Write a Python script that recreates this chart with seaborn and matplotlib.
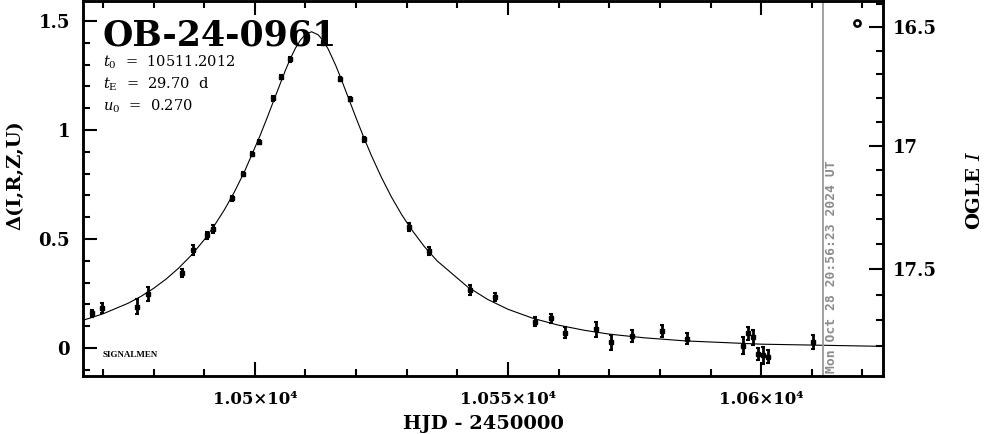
import matplotlib
matplotlib.use("Agg")
import matplotlib.pyplot as plt
from matplotlib.ticker import FixedLocator, MultipleLocator, NullFormatter
import seaborn as sns

# event info shown on the plot
event_name = "OB-24-0961"
param_lines = [r"$t_0$  =  10511.2012", r"$t_{\rm E}$  =  29.70  d", r"$u_0$  =  0.270"]
stamp_text = "Mon Oct 28 20:56:23 2024 UT"
stamp_t = 10612.2

# photometry (HJD-2450000, delta mag, error)
obs_t = [10467.8, 10469.9, 10476.8, 10478.9, 10485.7, 10487.7, 10490.5, 10491.8,
         10495.5, 10497.6, 10499.5, 10500.8, 10503.5, 10505.2, 10506.9, 10513.5,
         10516.8, 10518.7, 10521.5, 10530.5, 10534.4, 10542.5, 10547.5, 10555.4,
         10558.5, 10561.3, 10567.4, 10570.4, 10574.5, 10580.4, 10585.4, 10596.4,
         10597.4, 10598.4, 10599.4, 10600.4, 10601.4, 10610.3]
obs_delta = [0.159, 0.182, 0.189, 0.248, 0.345, 0.450, 0.518, 0.546,
             0.687, 0.798, 0.890, 0.946, 1.145, 1.242, 1.324, 1.398,
             1.233, 1.142, 0.957, 0.556, 0.445, 0.266, 0.235, 0.121,
             0.136, 0.070, 0.086, 0.026, 0.055, 0.078, 0.044, 0.011,
             0.067, 0.049, -0.028, -0.032, -0.040, 0.026]
obs_err = [0.018, 0.023, 0.034, 0.030, 0.020, 0.023, 0.016, 0.020,
           0.012, 0.010, 0.010, 0.010, 0.010, 0.010, 0.010, 0.010,
           0.010, 0.010, 0.010, 0.020, 0.017, 0.024, 0.019, 0.020,
           0.021, 0.025, 0.033, 0.034, 0.029, 0.028, 0.024, 0.038,
           0.031, 0.036, 0.027, 0.039, 0.029, 0.032]

# lone OGLE point top right
ogle_t = [10618.9]
ogle_delta = [1.491]

# model curve
model_t = [10466, 10470, 10475, 10477.5, 10480, 10482.5, 10485, 10487.5, 10490,
           10492, 10494, 10496, 10498, 10501, 10502.5, 10504, 10506, 10507, 10508,
           10509, 10510, 10511.2, 10512.5, 10513.5, 10514.5, 10516, 10517, 10518.5,
           10520, 10521.5, 10523, 10525, 10527, 10529, 10531, 10533.5, 10536,
           10542, 10546, 10550, 10555, 10560, 10565, 10570, 10577, 10585, 10600,
           10624]
model_delta = [0.127, 0.157, 0.206, 0.237, 0.274, 0.317, 0.368, 0.427, 0.497,
               0.562, 0.635, 0.718, 0.812, 0.973, 1.061, 1.152, 1.272, 1.327, 1.375,
               1.413, 1.439, 1.451, 1.437, 1.410, 1.371, 1.295, 1.237, 1.146,
               1.055, 0.967, 0.884, 0.783, 0.692, 0.612, 0.542, 0.465, 0.400,
               0.281, 0.223, 0.178, 0.136, 0.105, 0.082, 0.064, 0.047, 0.033, 0.018,
               0.008]

# x ticks
xticks = [10500, 10550, 10600]
xticklabels = ["1.05×10⁴", "1.055×10⁴", "1.06×10⁴"]

# right axis: OGLE I mag
mag_major = [16.5, 17.0, 17.5]
mag_major_labels = ["16.5", "17", "17.5"]
mag_minor = [16.4, 16.6, 16.7, 16.8, 16.9, 17.1, 17.2, 17.3, 17.4, 17.6, 17.7, 17.8]


def mag_to_delta(m):
    # fitted to where the right hand ticks sit against the left scale
    d = m - 17.0
    return 0.928 - 1.11 * d - 0.048 * d * d


sns.set_style("ticks")
plt.rcParams['font.family'] = ['DejaVu Serif', 'DejaVu Sans']
plt.rcParams['mathtext.fontset'] = 'dejavuserif'
# seaborn greys everything a little, the original is pure black
for key in ['text.color', 'axes.labelcolor', 'xtick.color', 'ytick.color',
            'axes.edgecolor']:
    plt.rcParams[key] = 'black'

W, H = 986, 434
fig = plt.figure(figsize=(W / 100, H / 100), dpi=100)
ax = fig.add_axes([82.7 / W, 1 - 376 / H, 800 / W, 375 / H])

sns.lineplot(x=model_t, y=model_delta, ax=ax, color='black', lw=0.8,
             sort=False, estimator=None)
ax.errorbar(obs_t, obs_delta, yerr=obs_err, fmt='s', ms=2.2, color='black',
            elinewidth=2.0, capsize=1.6, capthick=1.5)
ax.plot(ogle_t, ogle_delta, 'o', ms=4.5, mfc='white', mec='black', mew=1.8)

ax.axvline(stamp_t, color='#9a9a9a', lw=1.3)
ax.text(stamp_t + 0.5, -0.112, stamp_text, rotation=90, color='#8c8c8c',
        family='DejaVu Sans Mono', weight='bold', fontsize=9.4,
        ha='left', va='bottom')

ax.set_xlim(10466.0, 10624.0)
ax.set_ylim(-0.128, 1.592)

ax.set_xticks(xticks)
ax.set_xticklabels(xticklabels, fontsize=12, fontweight='bold')
ax.xaxis.set_minor_locator(MultipleLocator(10))
ax.yaxis.set_minor_locator(MultipleLocator(0.1))
ax.set_yticks([0, 0.5, 1.0, 1.5])
ax.set_yticklabels(["0", "0.5", "1", "1.5"], fontsize=13, fontweight='bold')

ax.tick_params(which='major', direction='in', length=10, width=1.5,
               top=True, right=False)
ax.tick_params(which='minor', direction='in', length=5, width=1.5,
               top=True, right=False)
ax.tick_params(axis='x', pad=11)
ax.tick_params(axis='y', pad=9)
for s in ax.spines.values():
    s.set_linewidth(1.8)

ax2 = ax.twinx()
ax2.set_ylim(ax.get_ylim())
ax2.yaxis.set_major_locator(FixedLocator([mag_to_delta(m) for m in mag_major]))
ax2.yaxis.set_minor_locator(FixedLocator([mag_to_delta(m) for m in mag_minor]))
ax2.set_yticklabels(mag_major_labels, fontsize=13, fontweight='bold')
ax2.yaxis.set_minor_formatter(NullFormatter())
ax2.tick_params(which='major', direction='in', length=10, width=1.5, pad=7)
ax2.tick_params(which='minor', direction='in', length=5, width=1.5)
for s in ax2.spines.values():
    s.set_linewidth(1.8)

# texts on the panel
fig.text(103 / W, 1 - 46 / H, event_name, fontsize=25, fontweight='bold',
         ha='left', va='baseline')
for i, line in enumerate(param_lines):
    fig.text(103 / W, 1 - (67 + 22 * i) / H, line, fontsize=10.5,
             ha='left', va='baseline')
ax.text(10470.0, -0.032, "SIGNALMEN", fontsize=6.5, fontweight='bold',
        ha='left', va='center', family='Liberation Serif')

# axis labels
fig.text(483 / W, 1 - 424 / H, "HJD - 2450000", fontsize=14, fontweight='bold',
         ha='center', va='center')
fig.text(15 / W, 1 - 175 / H, "Δ(I,R,Z,U)", fontsize=14, fontweight='bold',
         rotation=90, ha='center', va='center')
fig.text(975 / W, 1 - 190 / H, r"OGLE $\mathbf{\mathit{I}}$", fontsize=14,
         fontweight='bold', rotation=90, ha='center', va='center')

fig.savefig("out.png", dpi=100)
